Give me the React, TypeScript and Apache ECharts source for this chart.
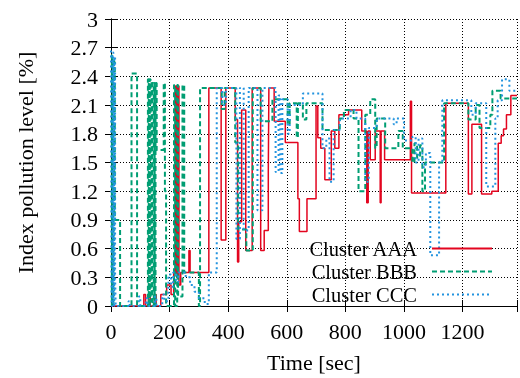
import React, { useEffect, useRef } from 'react';
import * as echarts from 'echarts';

const FONT = '"Liberation Serif", "Times New Roman", serif';
const FS = 22;
const LFS = 20.5;
const RED = '#e3051f';
const GREEN = '#009e73';
const BLUE = '#2394df';

const seriesNames = ['Cluster AAA', 'Cluster BBB', 'Cluster CCC'];
const X_MAX = 1386;
const X_STEP = 200;
const Y_MAX = 3;
const Y_STEP = 0.3;

// [time (sec), index pollution level (%)] — step points (value held until next point)
const clusterAAA = [
  [0, 0], [112, 0.12], [118, 0], [128, 0.12], [134, 0], [148, 0.12], [154, 0], [170, 0.12],
  [190, 0.22], [205, 0.12], [214, 0.35], [220, 2.3], [224, 0.3], [228, 2.3], [232, 0.22],
  [238, 0.35], [266, 0.58], [270, 0.35], [334, 2.28], [376, 0.69], [392, 2.28], [424, 1.95],
  [432, 0.46], [436, 0.88], [446, 2.05], [460, 0.58], [482, 2.28], [511, 0.58], [523, 0.79],
  [537, 1.4], [539, 2.28], [557, 1.93], [595, 1.71], [638, 1.12], [643, 0.78], [669, 1.12],
  [700, 2.09], [706, 1.76], [716, 1.65], [730, 1.32], [752, 1.83], [764, 1.65], [778, 2.0],
  [811, 2.05], [856, 1.83], [873, 1.08], [878, 1.83], [885, 1.53], [902, 1.83], [919, 1.08],
  [922, 1.83], [934, 1.53], [1022, 2.14], [1026, 1.18], [1143, 2.12], [1220, 1.17],
  [1232, 1.9], [1265, 1.17], [1300, 1.2], [1322, 1.7], [1332, 1.78], [1340, 1.85],
  [1350, 2.0], [1365, 2.2], [1386, 2.2],
];

const clusterBBB = [
  [0, 2.62], [3, 0], [5, 2.6], [8, 0], [10, 2.55], [13, 0.9], [31, 0], [70, 2.43], [89, 0],
  [126, 2.37], [129, 0], [132, 2.37], [135, 0.05], [138, 2.35], [141, 0], [146, 2.33],
  [149, 0], [152, 2.33], [156, 1.63], [180, 2.33], [184, 1.2], [188, 0], [215, 2.31],
  [219, 0], [226, 2.31], [229, 0.1], [244, 2.31], [250, 0.35], [300, 0], [304, 2.28],
  [378, 2.06], [388, 2.28], [424, 1.71], [434, 0.8], [462, 0.58], [484, 2.28], [511, 1.93],
  [551, 2.16], [603, 1.9], [610, 2.12], [634, 1.76], [638, 2.12], [655, 1.95], [667, 2.12],
  [722, 1.84], [781, 1.96], [795, 2.05], [828, 1.96], [845, 1.2], [868, 2.0], [885, 2.16],
  [902, 1.65], [907, 1.96], [936, 1.65], [981, 1.83], [996, 1.65], [1029, 1.5], [1036, 1.7],
  [1045, 1.55], [1055, 1.68], [1063, 1.2], [1072, 1.5], [1137, 2.12], [1220, 1.95],
  [1245, 2.1], [1258, 1.86], [1295, 2.0], [1302, 2.25], [1330, 2.17], [1386, 2.17],
];

const clusterCCC = [
  [0, 2.67], [2, 0], [5, 2.65], [8, 0], [11, 2.6], [14, 0.3], [16, 0], [60, 0.05], [64, 0],
  [95, 0.1], [100, 0], [120, 0.08], [124, 0], [150, 0.1], [155, 0], [175, 0.12], [182, 0.05],
  [196, 0.33], [205, 0.2], [212, 0.35], [222, 0.25], [230, 0.35], [255, 0.3], [270, 0.22],
  [285, 0.15], [300, 0.08], [320, 0.02], [334, 0.35], [361, 2.28], [380, 2.1], [392, 2.28],
  [428, 0.7], [440, 2.28], [453, 0.79], [470, 2.28], [500, 1.0], [517, 2.28], [562, 1.4],
  [572, 2.2], [578, 1.39], [585, 2.16], [603, 1.8], [610, 2.1], [655, 2.22], [722, 1.65],
  [735, 1.75], [746, 1.3], [760, 1.84], [781, 1.96], [818, 2.05], [838, 1.96], [868, 1.3],
  [880, 1.86], [907, 1.96], [965, 1.9], [975, 1.96], [1000, 1.73], [1029, 1.77], [1040, 1.5],
  [1050, 1.75], [1063, 1.45], [1075, 1.6], [1090, 0.53], [1120, 1.5], [1131, 2.15],
  [1230, 2.0], [1245, 2.12], [1281, 1.25], [1312, 1.96], [1320, 2.15], [1335, 2.37],
  [1360, 2.25], [1386, 2.25],
];

const seriesData = [clusterAAA, clusterBBB, clusterCCC];
const seriesColors = [RED, GREEN, BLUE];
const seriesDash: any[] = ['solid', [5, 3], [2, 3]];
const seriesWidth = [1.5, 2, 2];

export default function App() {
  const ref = useRef<HTMLDivElement>(null);
  useEffect(() => {
    if (!ref.current) return;
    const chart = echarts.init(ref.current, undefined, { renderer: 'svg' });
    const axisLine = { show: true, lineStyle: { color: '#000', width: 1 } };
    const axisTick = { show: true, inside: true, length: 6, lineStyle: { color: '#000' } };
    const splitLine = { show: true, lineStyle: { color: '#000', width: 1, type: [1, 2] as any } };
    const legendTops = [238, 261, 284];
    chart.setOption({
      animation: false,
      textStyle: { fontFamily: FONT },
      grid: { left: 111, width: 408, top: 19, height: 293 },
      xAxis: [
        {
          type: 'value', min: 0, max: X_MAX, interval: X_STEP,
          name: 'Time [sec]', nameLocation: 'middle', nameGap: 45,
          nameTextStyle: { fontFamily: FONT, fontSize: FS, color: '#000' },
          axisLine, axisTick, splitLine,
          axisLabel: {
            fontFamily: FONT, fontSize: FS, color: '#000', margin: 14,
            formatter: (v: number) => (v % X_STEP === 0 ? String(v) : ''),
          },
        },
        {
          type: 'value', min: 0, max: X_MAX, interval: X_STEP, position: 'top',
          axisLine, axisTick, splitLine: { show: false }, axisLabel: { show: false },
        },
      ],
      yAxis: [
        {
          type: 'value', min: 0, max: Y_MAX, interval: Y_STEP,
          name: 'Index pollution level [%]', nameLocation: 'middle', nameGap: 75, nameRotate: 90,
          nameTextStyle: { fontFamily: FONT, fontSize: FS, color: '#000' },
          axisLine, axisTick, splitLine,
          axisLabel: {
            fontFamily: FONT, fontSize: FS, color: '#000', margin: 13,
            formatter: (v: number) => String(Math.round(v * 10) / 10),
          },
        },
        {
          type: 'value', min: 0, max: Y_MAX, interval: Y_STEP, position: 'right',
          axisLine, axisTick, splitLine: { show: false }, axisLabel: { show: false },
        },
      ],
      legend: seriesNames.map((n, i) => ({
        data: [n], right: 27, top: legendTops[i], orient: 'horizontal', align: 'right',
        itemWidth: 60, itemHeight: 10, padding: 0, selectedMode: false,
        itemStyle: { opacity: 0 },
        textStyle: {
          fontFamily: FONT, fontSize: LFS, lineHeight: 20, color: '#000', padding: [0, 10, 0, 0],
        },
      })),
      series: seriesNames.map((n, i) => ({
        name: n, type: 'line', step: 'end', data: seriesData[i],
        symbol: 'none', showSymbol: false, clip: true,
        lineStyle: { color: seriesColors[i], width: seriesWidth[i], type: seriesDash[i] },
        itemStyle: { color: seriesColors[i] },
      })),
    });
    return () => chart.dispose();
  }, []);
  return <div ref={ref} style={{ position: 'fixed', left: 0, top: 0, width: 520, height: 378 }} />;
}
